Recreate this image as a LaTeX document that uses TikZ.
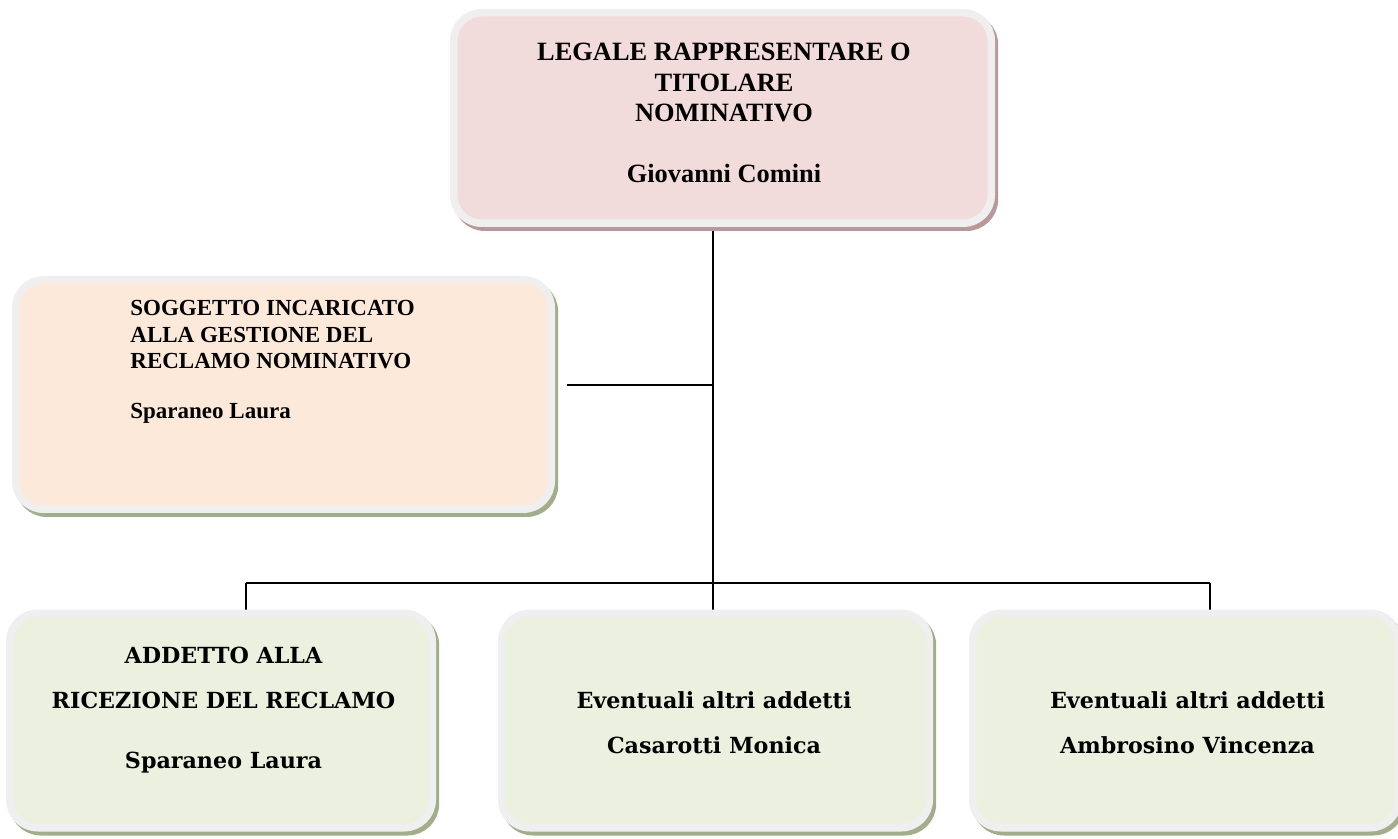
\documentclass[tikz,border=0pt]{standalone}
\usepackage{fontspec}
\setmainfont{Liberation Serif}
\newfontfamily\wideserif{DejaVu Serif}
\usetikzlibrary{shadows, backgrounds}

\definecolor{roseFill}{HTML}{F2DCDB}
\definecolor{roseShadow}{HTML}{B8999A}
\definecolor{peachFill}{HTML}{FDE9D9}
\definecolor{sageFill}{HTML}{EBF1DE}
\definecolor{sageShadow}{HTML}{A2AD8B}
\definecolor{bevelGray}{HTML}{EFEFEF}

\begin{document}
\begin{tikzpicture}[x=0.5pt, y=-0.5pt,
		% Base style for the bevelled cards
		card/.style={draw=bevelGray, line width=3.75pt, rounded corners=14pt, inner sep=0pt},
		card-rose/.style={card, fill=roseFill,
			drop shadow={shadow xshift=1.6pt, shadow yshift=-2pt, fill=roseShadow, draw=roseShadow, line width=3.75pt, opacity=1}},
		card-peach/.style={card, fill=peachFill,
			drop shadow={shadow xshift=1.6pt, shadow yshift=-2pt, fill=sageShadow, draw=sageShadow, line width=3.75pt, opacity=1}},
		card-sage/.style={card, fill=sageFill,
			drop shadow={shadow xshift=1.6pt, shadow yshift=-2pt, fill=sageShadow, draw=sageShadow, line width=3.75pt, opacity=1}},
		% Text inside the cards
		head text/.style={font=\bfseries\fontsize{13.2}{15.2}\selectfont, align=center, inner sep=0pt, anchor=north},
		side text/.style={font=\bfseries\fontsize{11.5}{13.25}\selectfont, align=left, inner sep=0pt, anchor=north west},
		staff text/.style={font=\wideserif\bfseries\fontsize{11.1}{22.5}\selectfont, align=center, inner sep=0pt, anchor=north},
		% Connectors
		link/.style={draw=black, line width=0.75pt}
	]
	\useasboundingbox (0,0) rectangle (1398,839);

	% ==============================================================================
	% CARDS
	% ==============================================================================
	\node[card-rose, minimum width=268.75pt, minimum height=105.25pt] (titolare) at (722.5,118) {};
	\node[head text] (titolareTxt) at (724,43) {LEGALE RAPPRESENTARE O\\TITOLARE\\NOMINATIVO\\[15.2pt]Giovanni Comini};

	\node[card-peach, minimum width=267.75pt, minimum height=114.75pt] (reclamo) at (283.5,394.5) {};
	\node[side text] (reclamoTxt) at (130,300) {SOGGETTO INCARICATO\\ALLA GESTIONE DEL\\RECLAMO NOMINATIVO\\[11.75pt]Sparaneo Laura};

	\node[card-sage, minimum width=211.25pt, minimum height=107.25pt] (ricezione) at (221,720.5) {};
	\node[staff text] (ricezioneTxt) at (223.5,647) {ADDETTO ALLA\\RICEZIONE DEL RECLAMO\\[7.5pt]Sparaneo Laura};

	\node[card-sage, minimum width=213.75pt, minimum height=107.25pt] (altriA) at (715.5,720.5) {};
	\node[staff text] (altriATxt) at (714,691) {Eventuali altri addetti\\Casarotti Monica};

	\node[card-sage, minimum width=212.75pt, minimum height=107.25pt] (altriB) at (1185.5,720.5) {};
	\node[staff text] (altriBTxt) at (1187.5,691) {Eventuali altri addetti\\Ambrosino Vincenza};

	% ==============================================================================
	% CONNECTORS (behind the cards)
	% ==============================================================================
	\coordinate (spine) at (713,583);
	\coordinate (branch) at (567,385);
	\coordinate (busL) at (246,583);
	\coordinate (busR) at (1210,583);
	\begin{scope}[on background layer]
		\draw[link] (titolare.south -| spine) -- (spine);
		\draw[link] (branch) -- (branch -| spine);
		\draw[link] (busL) -- (busR);
		\draw[link] (busL) -- (busL |- ricezione.north);
		\draw[link] (spine) -- (spine |- altriA.north);
		\draw[link] (busR) -- (busR |- altriB.north);
	\end{scope}
\end{tikzpicture}
\end{document}
